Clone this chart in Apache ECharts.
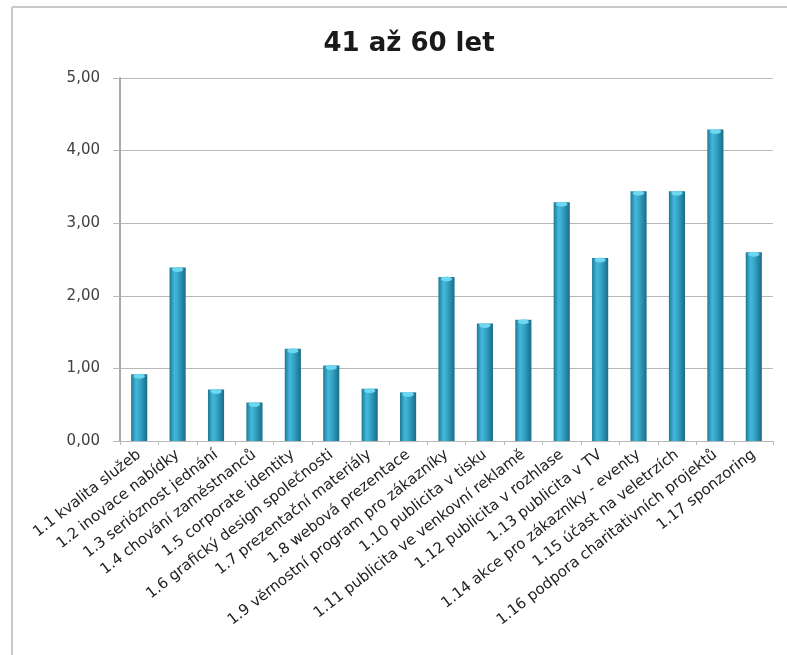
<!DOCTYPE html>
<html>
<head>
<meta charset="utf-8">
<script src="https://cdn.jsdelivr.net/npm/echarts@6/dist/echarts.min.js"></script>
<style>
  html, body { margin: 0; padding: 0; background: #fff; }
  #chart { width: 787px; height: 655px; }
</style>
</head>
<body>
<div id="chart"></div>
<script>
// Category names (x axis)
const categories = [
  '1.1 kvalita služeb',
  '1.2 inovace nabídky',
  '1.3 serióznost jednání',
  '1.4 chování zaměstnanců',
  '1.5 corporate identity',
  '1.6 grafický design společnosti',
  '1.7 prezentační materiály',
  '1.8 webová prezentace',
  '1.9 věrnostní program pro zákazníky',
  '1.10 publicita v tisku',
  '1.11 publicita ve venkovní reklamě',
  '1.12 publicita v rozhlase',
  '1.13 publicita v TV',
  '1.14 akce pro zákazníky - eventy',
  '1.15 účast na veletrzích',
  '1.16 podpora charitativních projektů',
  '1.17 sponzoring'
];

// Average scores, age group 41–60
const scores = [0.92, 2.39, 0.71, 0.53, 1.27, 1.04, 0.72, 0.67, 2.26,
                1.62, 1.67, 3.29, 2.52, 3.44, 3.44, 4.29, 2.60];

// Value axis ticks
const yTicks = [0, 1, 2, 3, 4, 5];

const chart = echarts.init(document.getElementById('chart'));

const barFill = new echarts.graphic.LinearGradient(0, 0, 1, 0, [
  { offset: 0, color: '#1c7896' },
  { offset: 0.3, color: '#43b8d9' },
  { offset: 0.5, color: '#38a9cc' },
  { offset: 1, color: '#1b6c88' }
]);

chart.setOption({
  animation: false,
  backgroundColor: '#ffffff',
  title: {
    text: '41 až 60 let',
    left: 404,
    top: 26,
    textAlign: 'center',
    textStyle: {
      fontFamily: 'DejaVu Sans',
      fontWeight: 'bold',
      fontSize: 26,
      color: '#1a1a1a'
    }
  },
  graphic: [
    {
      type: 'line',
      shape: { x1: 12, y1: 7, x2: 787, y2: 7 },
      style: { stroke: '#c8c8c8', lineWidth: 2 }
    },
    {
      type: 'line',
      shape: { x1: 12, y1: 7, x2: 12, y2: 655 },
      style: { stroke: '#c8c8c8', lineWidth: 2 }
    }
  ],
  grid: {
    left: 120,
    right: 14,
    top: 78,
    bottom: 214,
    containLabel: false
  },
  xAxis: {
    type: 'category',
    data: categories,
    axisLine: { show: true, lineStyle: { color: '#b8b8b8', width: 1 } },
    axisTick: { show: true, length: 4, lineStyle: { color: '#b8b8b8' } },
    axisLabel: {
      interval: 0,
      rotate: 38,
      margin: 12,
      fontFamily: 'DejaVu Sans',
      fontSize: 15,
      color: '#222222'
    }
  },
  yAxis: {
    type: 'value',
    min: yTicks[0],
    max: yTicks[yTicks.length - 1],
    interval: 1,
    axisLine: { show: true, lineStyle: { color: '#a8a8a8', width: 2 } },
    axisTick: { show: true, length: 7, lineStyle: { color: '#b8b8b8' } },
    splitLine: { show: true, lineStyle: { color: '#b8b8b8', width: 1 } },
    axisLabel: {
      margin: 20,
      fontFamily: 'DejaVu Sans',
      fontSize: 15,
      color: '#404040',
      formatter: v => v.toFixed(2).replace('.', ',')
    }
  },
  series: [
    {
      type: 'bar',
      data: scores,
      barWidth: '42%',
      itemStyle: { color: barFill },
      z: 2
    },
    {
      // light rounded cap on each bar top
      type: 'pictorialBar',
      data: scores,
      symbol: 'circle',
      symbolSize: ['42%', 5],
      symbolPosition: 'end',
      symbolOffset: [0, '-10%'],
      itemStyle: { color: '#6fd6f0' },
      z: 3,
      silent: true
    }
  ]
});
</script>
</body>
</html>
